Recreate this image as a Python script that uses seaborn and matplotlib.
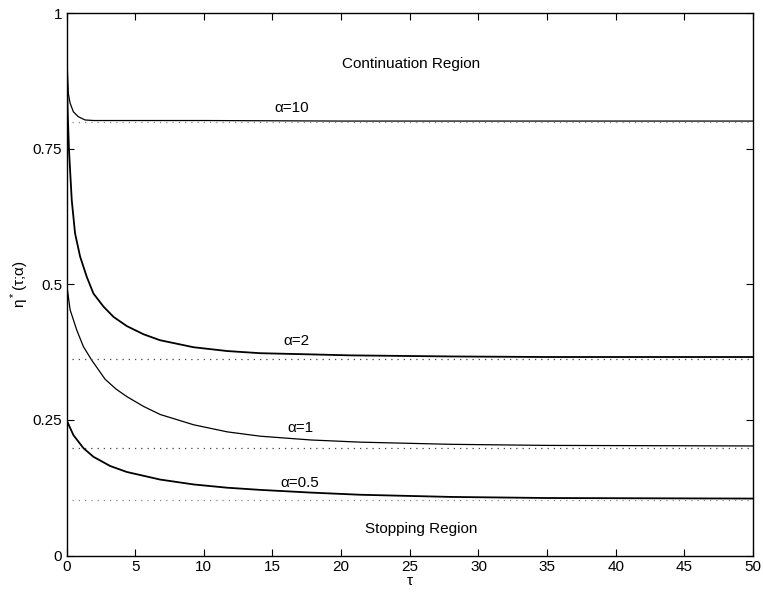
import numpy as np
import pandas as pd
import seaborn as sns
import matplotlib
matplotlib.use("Agg")
import matplotlib.pyplot as plt

# curves: tau -> eta*(tau; alpha)
tau_10 = [0, 0.13, 0.26, 0.5, 0.86, 1.35, 2, 5, 10, 20, 30, 40, 50]
eta_10 = [0.935, 0.852, 0.834, 0.818, 0.809, 0.803, 0.802, 0.802, 0.802, 0.801, 0.801, 0.801, 0.801]

tau_2 = [0, 0.08, 0.18, 0.38, 0.62, 0.99, 1.47, 1.96, 2.69, 3.42, 4.39, 5.6, 6.8, 9.25,
         11.7, 14.1, 17.5, 20.7, 28, 35, 50]
eta_2 = [0.93, 0.82, 0.747, 0.655, 0.594, 0.551, 0.514, 0.483, 0.459, 0.44, 0.423, 0.408, 0.397, 0.384,
         0.377, 0.373, 0.371, 0.369, 0.367, 0.366, 0.366]

tau_1 = [0, 0.26, 0.74, 1.23, 1.84, 2.81, 3.6, 4.39, 5.6, 6.82, 9.26, 11.7, 14.1, 17.8, 21.4, 28, 35, 50]
eta_1 = [0.502, 0.453, 0.416, 0.385, 0.36, 0.325, 0.307, 0.293, 0.275, 0.26, 0.241, 0.228, 0.22, 0.213, 0.209, 0.205, 0.203, 0.202]

tau_05 = [0, 0.5, 1.23, 1.96, 3.18, 4.39, 6.82, 9.26, 11.7, 14.1, 17.8, 21.4, 28, 35, 50]
eta_05 = [0.25, 0.222, 0.198, 0.182, 0.165, 0.154, 0.14, 0.131, 0.125, 0.121, 0.116, 0.112, 0.108, 0.106, 0.105]

# asymptotic levels (dotted lines)
alphas = ["10", "2", "1", "0.5"]
limits = [0.8, 0.362, 0.199, 0.103]
dot_shade = ["#888888", "#444444", "#444444", "#888888"]
dot_start = 0.4

# label positions
label_tau = [16.4, 16.75, 17.0, 17.0]
label_eta = [0.825, 0.396, 0.236, 0.133]

sns.set_style("ticks", {"axes.edgecolor": "black", "text.color": "black",
                        "xtick.color": "black", "ytick.color": "black",
                        "axes.labelcolor": "black"})
plt.rcParams['font.family'] = ['Liberation Sans', 'DejaVu Sans']
plt.rcParams['mathtext.fontset'] = 'custom'
plt.rcParams['mathtext.rm'] = 'Liberation Sans'

fig = plt.figure(figsize=(7.63, 5.97), dpi=100)
ax = fig.add_axes([0.0872, 0.0695, 0.8998, 0.9085])

curves = [(tau_10, eta_10, 0.9), (tau_2, eta_2, 1.3), (tau_1, eta_1, 0.9), (tau_05, eta_05, 1.3)]
for (t, e, lw) in curves:
    sns.lineplot(x=t, y=e, ax=ax, color="black", linewidth=lw)

for lim, c in zip(limits, dot_shade):
    sns.lineplot(x=[dot_start, 50], y=[lim, lim], ax=ax, color=c,
                 linewidth=0.9, linestyle=(0, (1, 4)))

for a, lt, le in zip(alphas, label_tau, label_eta):
    ax.text(lt, le, "α=" + a, ha="center", va="center", fontsize=11)

ax.text(25.1, 0.906, "Continuation Region", ha="center", va="center", fontsize=11)
ax.text(25.8, 0.049, "Stopping Region", ha="center", va="center", fontsize=11)

ax.set_xlim(0, 50)
ax.set_ylim(0, 1)
ax.set_xticks(np.arange(0, 51, 5))
ax.set_yticks([0, 0.25, 0.5, 0.75, 1])
ax.set_yticklabels(["0", "0.25", "0.5", "0.75", "1"])
ax.tick_params(direction="in", top=True, right=True, labelsize=11, length=5, width=0.8, pad=3)
for s in ax.spines.values():
    s.set_linewidth(1.0)
    s.set_visible(True)

ax.set_xlabel("τ", fontsize=11, labelpad=0)
ax.set_ylabel("η$^*$(τ;α)", fontsize=11, labelpad=1)

fig.savefig("out.png", dpi=100)
